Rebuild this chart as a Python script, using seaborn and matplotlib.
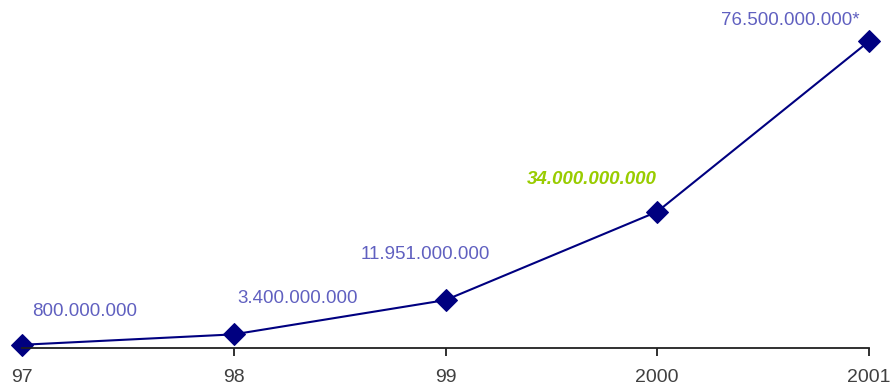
import matplotlib
matplotlib.use("Agg")
import matplotlib.pyplot as plt
import seaborn as sns
import pandas as pd

# =====================================================
# Data
# =====================================================

years = ["97", "98", "99", "2000", "2001"]
values = [0.8e9, 3.4e9, 11.951e9, 34.0e9, 76.5e9]
labels = ["800.000.000", "3.400.000.000", "11.951.000.000",
          "34.000.000.000", "76.500.000.000*"]

df = pd.DataFrame({"pos": range(len(years)), "value": values})

sns.set_style("white")
plt.rcParams["font.family"] = ["Liberation Sans", "DejaVu Sans"]

fig = plt.figure(figsize=(8.91, 3.87), dpi=100)
ax = fig.add_axes([22 / 891, 39 / 387, 847 / 891, 348 / 387])

sns.lineplot(
    data=df,
    x="pos",
    y="value",
    color="#000080",
    linewidth=1.5,
    marker="D",
    markersize=11,
    markeredgecolor="#000080",
    clip_on=False,
    ax=ax
)

ax.set_xlim(0, len(years) - 1)
ax.set_ylim(0, 86.8e9)

# label offsets in pixels: (dx from point to text left, dy from point to text centre)
offsets = [(10, 33), (4, 36), (-85, 46), (-130, 32), (-148, 21)]

for i, (lab, (dx, dy)) in enumerate(zip(labels, offsets)):
    if years[i] == "2000":
        kw = dict(color="#99CC00", fontweight="bold", fontstyle="italic")
    else:
        kw = dict(color="#6060C0")
    ax.annotate(
        lab,
        xy=(i, values[i]),
        xytext=(dx, dy),
        textcoords="offset pixels",
        ha="left",
        va="center",
        fontsize=13.5,
        annotation_clip=False,
        **kw
    )

ax.set_xticks(range(len(years)))
ax.set_xticklabels(years)
ax.set_yticks([])
ax.set_xlabel("")
ax.set_ylabel("")

for side in ["top", "left", "right"]:
    ax.spines[side].set_visible(False)
ax.spines["bottom"].set_color("#202020")
ax.spines["bottom"].set_linewidth(1.3)

ax.tick_params(
    axis="x",
    direction="out",
    length=6,
    width=1.3,
    color="#202020",
    pad=9,
    labelsize=14,
    labelcolor="#404040",
    bottom=True
)

fig.savefig("out.png", dpi=100)
